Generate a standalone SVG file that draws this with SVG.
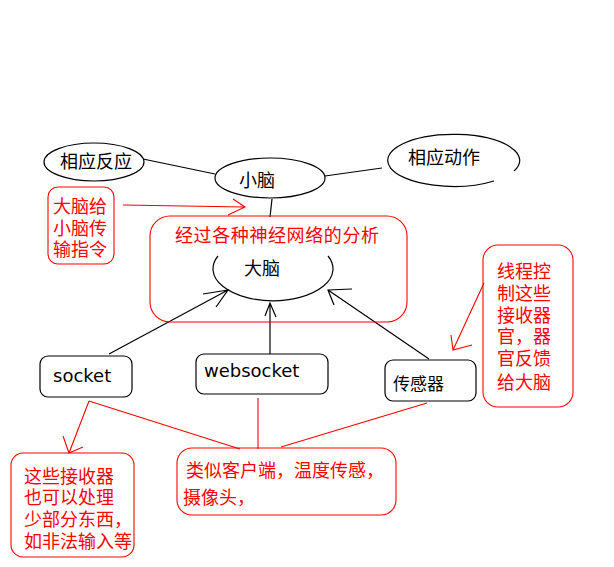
<svg xmlns="http://www.w3.org/2000/svg" width="614" height="567" viewBox="0 0 614 567">
<defs>
<style>
.bk{fill:none;stroke:#000;stroke-width:1.2}
.rd{fill:none;stroke:#f00;stroke-width:1.1}
.tb{font-family:"DejaVu Sans","Noto Sans CJK SC",sans-serif;font-size:18px;fill:#000}
.tr{font-family:"Noto Sans CJK SC","DejaVu Sans",sans-serif;font-size:18px;fill:#f00}
</style>
</defs>
<rect width="614" height="567" fill="#fff"/>
<g id="connectors">
<line class="bk" x1="143" y1="159" x2="215" y2="174"/>
<line class="bk" x1="325" y1="176" x2="382" y2="168"/>
<line class="bk" x1="272" y1="199" x2="270" y2="217"/>
<path class="bk" d="M109,354 L228,290 M203,294 L228,290 L216,307"/>
<path class="bk" d="M270,354 L270,303 M265,316 L270,303 L276,317"/>
<path class="bk" d="M429,359 L328,290 M352,289 L328,290 L334,305"/>
<path class="rd" d="M123,205 L245,207 M233,199 L245,207 L228,215"/>
<path class="rd" d="M484,283 L453,350 M451,335 L453,350 L472,345"/>
<path class="rd" d="M89,401 L69,453 M63,436 L69,453 L83,447"/>
<path class="rd" d="M89,401 L240,449"/>
<path class="rd" d="M258,398 L258,449"/>
<path class="rd" d="M427,403 L281,447"/>
</g>
<g id="n-xiangyingfanying">
<ellipse class="bk" cx="94" cy="162" rx="50" ry="19"/>
<text class="tb" x="60" y="168" style="font-family:'Noto Sans CJK SC',sans-serif">相应反应</text>
</g>
<g id="n-xiaonao">
<ellipse class="bk" cx="270" cy="178" rx="55" ry="20"/>
<text class="tb" x="239" y="187" style="font-family:'Noto Sans CJK SC',sans-serif">小脑</text>
</g>
<g id="n-xiangyingdongzuo">
<path class="bk" d="M514,171 A66,26 0 1,0 494,181"/>
<text class="tb" x="408" y="164" style="font-family:'Noto Sans CJK SC',sans-serif">相应动作</text>
</g>
<g id="n-note-dnao">
<rect class="rd" x="48" y="187" width="66" height="77" rx="10"/>
<text class="tr" x="53" y="213">大脑给</text>
<text class="tr" x="53" y="235">小脑传</text>
<text class="tr" x="53" y="256">输指令</text>
</g>
<g id="n-analysis">
<rect class="rd" x="150" y="216" width="257" height="106" rx="20"/>
<text class="tr" x="175" y="242" letter-spacing="0.6">经过各种神经网络的分析</text>
</g>
<g id="n-danao">
<path class="bk" d="M218,256 A60,32 0 1,0 328,256"/>
<text class="tb" x="244" y="275" style="font-family:'Noto Sans CJK SC',sans-serif">大脑</text>
</g>
<g id="n-socket">
<rect class="bk" x="40" y="356" width="92" height="41" rx="8"/>
<text class="tb" x="53" y="382">socket</text>
</g>
<g id="n-websocket">
<rect class="bk" x="196" y="354" width="132" height="40" rx="8"/>
<text class="tb" x="204" y="377">websocket</text>
</g>
<g id="n-sensor">
<rect class="bk" x="385" y="360" width="91" height="41" rx="8"/>
<text class="tb" x="393" y="390" style="font-family:'Noto Sans CJK SC',sans-serif;font-size:17px">传感器</text>
</g>
<g id="n-note-thread">
<rect class="rd" x="483" y="245" width="90" height="162" rx="15"/>
<text class="tr" x="497" y="278">线程控</text>
<text class="tr" x="497" y="300">制这些</text>
<text class="tr" x="497" y="322">接收器</text>
<text class="tr" x="497" y="343">官，器</text>
<text class="tr" x="497" y="365">官反馈</text>
<text class="tr" x="497" y="389">给大脑</text>
</g>
<g id="n-note-receivers">
<rect class="rd" x="11" y="453" width="123" height="104" rx="12"/>
<text class="tr" x="24" y="483">这些接收器</text>
<text class="tr" x="24" y="504">也可以处理</text>
<text class="tr" x="24" y="526">少部分东西，</text>
<text class="tr" x="24" y="548">如非法输入等</text>
</g>
<g id="n-note-clients">
<rect class="rd" x="177" y="448" width="219" height="67" rx="15"/>
<text class="tr" x="186" y="477">类似客户端，温度传感，</text>
<text class="tr" x="183" y="504">摄像头，</text>
</g>
</svg>
